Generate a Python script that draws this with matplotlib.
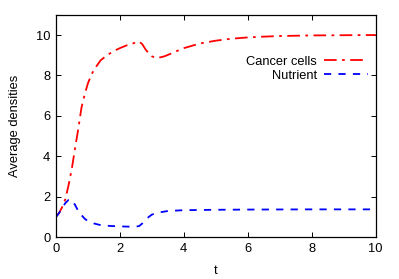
import matplotlib
matplotlib.use("Agg")
import matplotlib.pyplot as plt

plt.rcParams["font.family"] = ["Liberation Sans", "DejaVu Sans"]
plt.rcParams["font.size"] = 9.3

# time samples and average densities
t_cancer = [0.0, 0.1, 0.2, 0.3, 0.4, 0.5, 0.6, 0.7, 0.8, 0.9, 1.0, 1.1, 1.2,
            1.4, 1.6, 1.8, 2.0, 2.2, 2.4, 2.6, 2.7, 2.8, 2.9, 3.0, 3.1, 3.2,
            3.4, 3.6, 3.8, 4.0, 4.5, 5.0, 5.5, 6.0, 6.5, 7.0, 8.0, 9.0, 10.0]
cancer = [1.0, 1.2, 1.5, 1.9, 2.6, 3.4, 4.4, 5.35, 6.4, 7.05, 7.6, 8.0, 8.3,
          8.75, 9.0, 9.2, 9.35, 9.48, 9.58, 9.68, 9.55, 9.3, 9.1, 8.95, 8.88, 8.87,
          8.95, 9.08, 9.22, 9.35, 9.58, 9.72, 9.82, 9.88, 9.92, 9.95, 9.98, 9.99, 10.0]

t_nutrient = [0.0, 0.1, 0.2, 0.3, 0.4, 0.5, 0.6, 0.7, 0.8, 0.9, 1.0, 1.2, 1.4,
              1.7, 2.0, 2.4, 2.6, 2.7, 2.8, 2.9, 3.0, 3.2, 3.5, 4.0, 5.0, 6.0,
              8.0, 10.0]
nutrient = [1.0, 1.2, 1.45, 1.7, 1.85, 1.85, 1.6, 1.3, 1.1, 0.92, 0.8, 0.68, 0.6,
            0.56, 0.54, 0.52, 0.55, 0.68, 0.85, 1.0, 1.12, 1.22, 1.3, 1.34, 1.36, 1.37,
            1.38, 1.38]

fig = plt.figure(figsize=(3.99, 2.79), dpi=100)
ax = fig.add_axes([0.140, 0.1495, 0.8016, 0.7975])

ax.plot(t_cancer, cancer, color="red", lw=1.3, dashes=(7, 3, 1.5, 3),
        label="Cancer cells")
ax.plot(t_nutrient, nutrient, color="blue", lw=1.3, dashes=(4, 4),
        label="Nutrient")

ax.set_xlim(0, 10)
ax.set_ylim(0, 11)
ax.set_xticks([0, 2, 4, 6, 8, 10])
ax.set_yticks([0, 2, 4, 6, 8, 10])
ax.tick_params(direction="in", top=True, right=True, length=3.5, width=0.7,
               pad=4)
for s in ax.spines.values():
    s.set_linewidth(0.9)

ax.set_xlabel("t", labelpad=7)
ax.set_ylabel("Average densities", labelpad=11)

ax.legend(loc="upper right", bbox_to_anchor=(0.975, 0.815), frameon=False,
          markerfirst=False, alignment="right", borderpad=0, borderaxespad=0,
          handlelength=3.4, handletextpad=0.55, labelspacing=0.12)

fig.savefig("out.png", dpi=100)
